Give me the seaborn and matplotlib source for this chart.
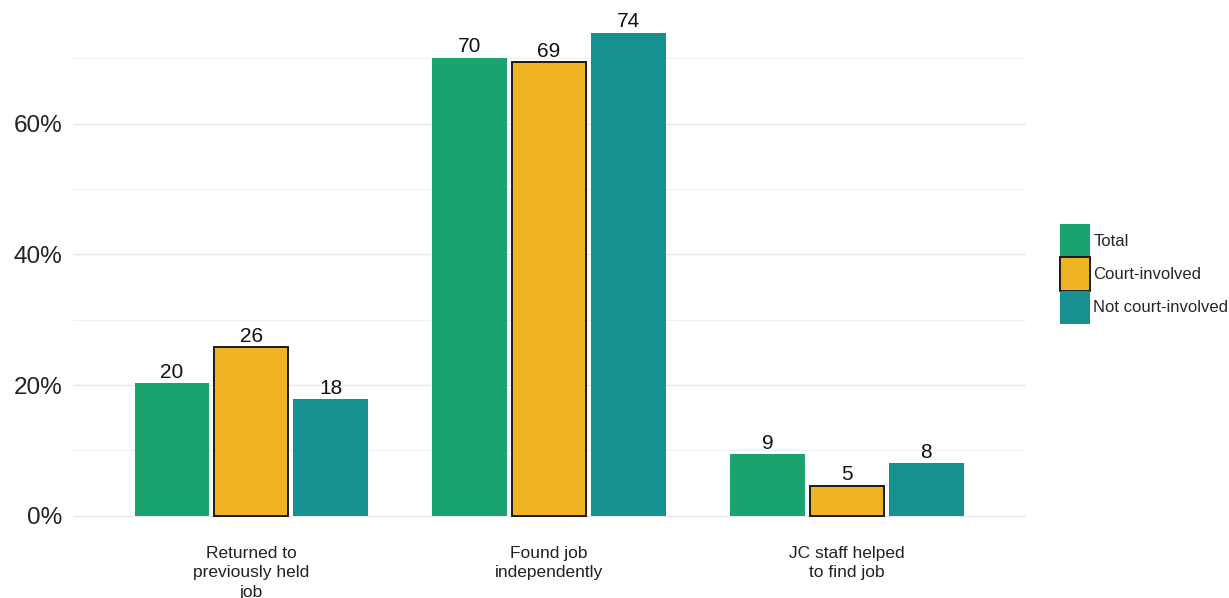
import matplotlib
matplotlib.use("Agg")
import matplotlib.pyplot as plt
from matplotlib.patches import Patch
from matplotlib.ticker import MultipleLocator, FuncFormatter
import seaborn as sns
import pandas as pd

# Share of job placements by how the job was found, by group (%)
categories = ["Returned to\npreviously held\njob", "Found job\nindependently", "JC staff helped\nto find job"]
groups = ["Total", "Court-involved", "Not court-involved"]
total = [20.3, 70.1, 9.4]
court_involved = [25.8, 69.4, 4.6]
not_court_involved = [17.8, 73.9, 8.1]

colors = ["#1ba36f", "#f0b323", "#17918f"]

df = pd.DataFrame({
    "category": categories * 3,
    "group": [g for g in groups for _ in categories],
    "value": total + court_involved + not_court_involved,
})

sns.set_theme(style="white")
plt.rcParams["font.family"] = ["Liberation Sans", "DejaVu Sans"]

fig = plt.figure(figsize=(12.29, 5.98), dpi=100)
ax = fig.add_axes([0.059, 0.097, 0.7755, 0.8885])

sns.barplot(data=df, x="category", y="value", hue="group",
            order=categories, hue_order=groups, palette=colors,
            saturation=1, width=0.8, gap=0.0625, dodge=True, legend=False,
            edgecolor="none", linewidth=0, ax=ax, errorbar=None)

# Court-involved bars get a dark outline
for bar in ax.containers[1]:
    bar.set_edgecolor("#1a1a1a")
    bar.set_linewidth(1.4)

for cont in ax.containers:
    ax.bar_label(cont, fmt="%.0f", padding=1, fontsize=15, color="#111111")

ymax = max(total + court_involved + not_court_involved)
ax.set_ylim(-0.05 * ymax, ymax * 1.05)
ax.set_xlim(-0.6, 2.6)
ax.yaxis.set_major_locator(MultipleLocator(20))
ax.yaxis.set_minor_locator(MultipleLocator(10))
ax.yaxis.set_major_formatter(FuncFormatter(lambda v, p: f"{v:.0f}%"))
ax.grid(axis="y", which="major", color="#e8e8e8", linewidth=1.0)
ax.grid(axis="y", which="minor", color="#f0f0f0", linewidth=0.8)
ax.set_axisbelow(True)
ax.tick_params(axis="y", which="both", length=0, labelsize=17.5, pad=7.5, colors="#222222")
ax.tick_params(axis="x", length=0, labelsize=12.5, pad=4, colors="#222222")
for t in ax.get_xticklabels():
    t.set_linespacing(1.38)
ax.set_xlabel("")
ax.set_ylabel("")
sns.despine(ax=ax, left=True, bottom=True)

handles = [Patch(facecolor=colors[0], edgecolor="none"),
           Patch(facecolor=colors[1], edgecolor="#1a1a1a", linewidth=1.4),
           Patch(facecolor=colors[2], edgecolor="none")]
fig.legend(handles=handles, labels=groups, loc="center left",
           bbox_to_anchor=(1060 / 1229, 1 - 274 / 598), frameon=False,
           fontsize=12, handlelength=1.8, handleheight=2.67,
           labelspacing=0.0, handletextpad=0.2, borderpad=0, borderaxespad=0)

fig.savefig("out.png", dpi=100)
